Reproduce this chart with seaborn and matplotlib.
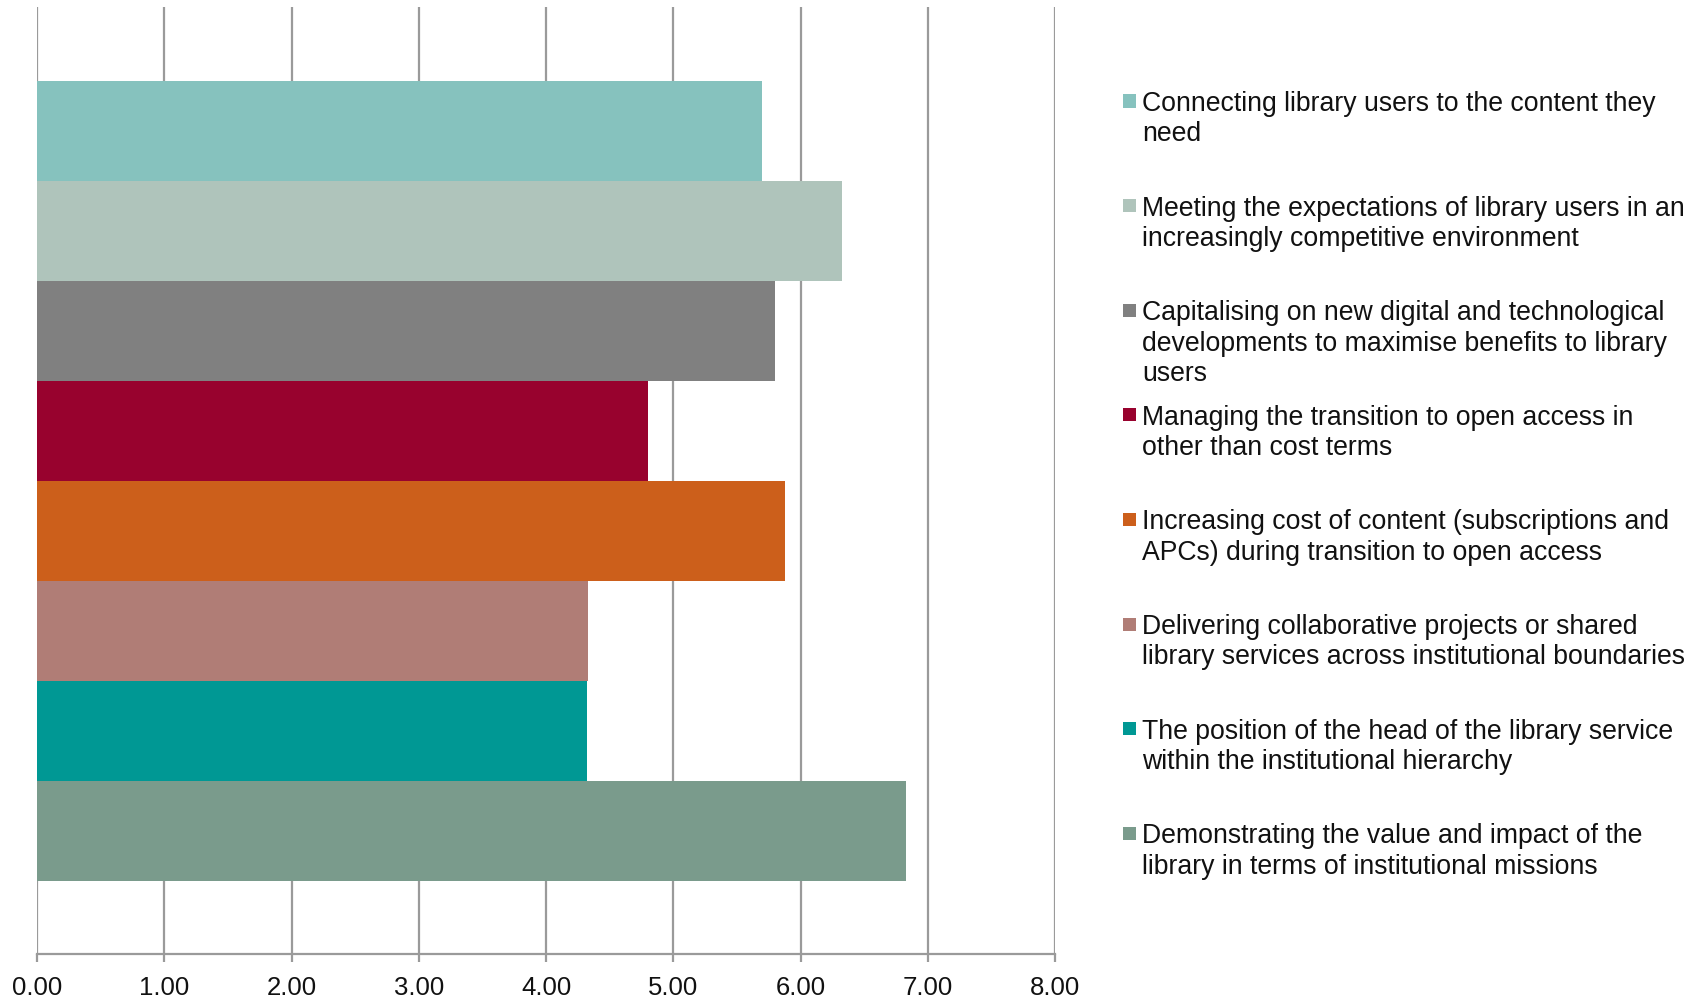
import matplotlib
matplotlib.use("Agg")
import matplotlib.pyplot as plt
import seaborn as sns
import pandas as pd
from matplotlib.patches import Rectangle

# Challenge areas (top to bottom) and their mean ratings
categories = [
    "Connecting library users to the content they\nneed",
    "Meeting the expectations of library users in an\nincreasingly competitive environment",
    "Capitalising on new digital and technological\ndevelopments to maximise benefits to library\nusers",
    "Managing the transition to open access in\nother than cost terms",
    "Increasing cost of content (subscriptions and\nAPCs) during transition to open access",
    "Delivering collaborative projects or shared\nlibrary services across institutional boundaries",
    "The position of the head of the library service\nwithin the institutional hierarchy",
    "Demonstrating the value and impact of the\nlibrary in terms of institutional missions",
]
scores = [5.70, 6.33, 5.80, 4.80, 5.88, 4.33, 4.32, 6.83]
colors = ["#86C2BE", "#AFC4BB", "#808080", "#98022E",
          "#CC5F1B", "#B07D76", "#009894", "#7A9B8C"]
tick_values = [0, 1, 2, 3, 4, 5, 6, 7, 8]
tick_labels = ["0.00", "1.00", "2.00", "3.00", "4.00", "5.00", "6.00", "7.00", "8.00"]

sns.set_theme(style="white")
plt.rcParams["font.family"] = ["Liberation Sans", "DejaVu Sans"]

W, H = 1704, 997
fig = plt.figure(figsize=(W / 100, H / 100), dpi=100)
fig.patch.set_facecolor("white")
ax = fig.add_axes([37 / W, (H - 954) / H, (1055 - 37) / W, (954 - 7) / H])

df = pd.DataFrame({"category": categories, "score": scores})
sns.barplot(data=df, x="score", y="category", hue="category",
            palette=colors, dodge=False, width=1.0, saturation=1,
            legend=False, linewidth=0, ax=ax)

grid_col = "#9A9A9A"
ax.set_xlim(0, 8)
ax.set_ylim(8.23, -1.24)
ax.set_axisbelow(True)
ax.xaxis.grid(True, color=grid_col, linewidth=1.6)
ax.yaxis.grid(False)
for side in ("top", "right", "left"):
    ax.spines[side].set_visible(False)
ax.spines["bottom"].set_color(grid_col)
ax.spines["bottom"].set_linewidth(1.6)

ax.set_xticks(tick_values)
ax.set_xticklabels(tick_labels)
ax.set_yticks([])
ax.set_xlabel("")
ax.set_ylabel("")
ax.tick_params(axis="x", direction="out", length=6, width=1.6,
               color=grid_col, labelsize=18.5, labelcolor="#111111", pad=10,
               bottom=True)

# Legend: colour swatch plus wrapped label, one fixed slot per category
first_center = 101
step = 104.6
for i, (label, col) in enumerate(zip(categories, colors)):
    yc = first_center + i * step
    fig.patches.append(Rectangle((1123 / W, 1 - (yc + 6.5) / H), 13 / W, 13 / H,
                                 transform=fig.transFigure, facecolor=col,
                                 edgecolor="none"))
    fig.text(1142 / W, 1 - (yc - 10) / H, label, ha="left", va="top",
             fontsize=19.2, color="#111111", linespacing=1.22)

fig.savefig("out.png", dpi=100, facecolor="white")
